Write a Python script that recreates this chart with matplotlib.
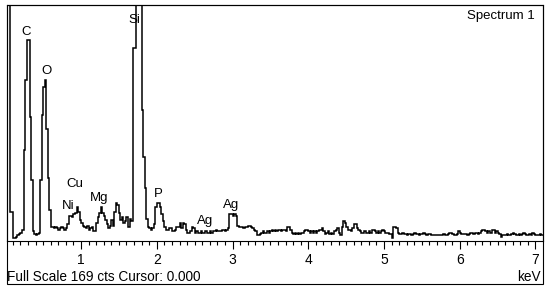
import numpy as np
import matplotlib as mpl
import matplotlib.pyplot as plt
from matplotlib.patches import Rectangle

mpl.rcParams.update({
    "font.family": ["Liberation Sans", "DejaVu Sans"],
    "font.size": 9.5,
})

# EDS spectrum, counts per 0.02 keV channel starting at 0 keV
CHANNEL_KEV = 0.02
counts = [
    200, 200, 200, 21, 21, 2, 2, 3, 4, 5, 6, 8, 65, 115, 144, 144, 89, 44, 7, 5, 4, 5, 6, 44, 90,
    110, 115, 80, 45, 22, 10, 10, 9, 10, 9, 8, 9, 10, 9, 8, 9, 12, 18, 18, 17, 19, 20, 24, 21, 15,
    13, 11, 10, 9, 11, 8, 9, 10, 7, 7, 13, 17, 20, 24, 20, 18, 15, 12, 9, 11, 15, 11, 21, 27, 26,
    20, 15, 17, 13, 14, 17, 10, 16, 14, 138, 138, 250, 250, 250, 250, 94, 60, 38, 16, 10, 9, 8, 9, 12, 24,
    27, 27, 24, 19, 14, 10, 8, 8, 9, 9, 7, 7, 8, 10, 10, 13, 9, 13, 12, 8, 6, 6, 7, 10, 9,
    6, 7, 6, 6, 7, 6, 6, 7, 6, 6, 7, 6, 7, 7, 8, 7, 7, 7, 8, 8, 7, 8, 9, 19, 19,
    18, 19, 18, 11, 10, 10, 10, 9, 10, 10, 11, 11, 10, 9, 8, 7, 4, 4, 5, 6, 7, 6, 6, 7, 6,
    7, 8, 7, 8, 7, 8, 8, 7, 8, 8, 7, 10, 10, 8, 6, 5, 6, 5, 6, 5, 6, 6, 7, 8, 8,
    7, 6, 7, 6, 7, 6, 7, 8, 8, 9, 7, 5, 6, 7, 5, 6, 5, 7, 8, 9, 6, 4, 10, 14, 13,
    10, 8, 8, 7, 9, 12, 12, 9, 8, 7, 6, 6, 7, 6, 6, 7, 6, 8, 8, 7, 6, 7, 6, 7, 8,
    7, 6, 6, 5, 5, 2, 10, 10, 9, 6, 5, 5, 6, 5, 5, 4, 5, 5, 4, 5, 6, 5, 5, 4, 5,
    5, 6, 5, 4, 5, 5, 4, 4, 4, 4, 4, 4, 4, 4, 5, 4, 4, 5, 6, 6, 5, 4, 4, 5, 7,
    6, 5, 5, 5, 5, 4, 5, 6, 6, 5, 6, 6, 5, 6, 7, 8, 8, 7, 6, 7, 6, 8, 8, 6, 7,
    6, 5, 3, 4, 4, 4, 5, 4, 4, 5, 6, 5, 4, 4, 5, 4, 5, 6, 5, 4, 4, 5, 4, 6, 5,
    4, 4, 4, 5, 4, 4,
]
FULL_SCALE = 169

# element labels: (text, keV, counts)
elements = ["C", "O", "Si", "Cu", "Ni", "Mg", "P", "Ag", "Ag"]
elem_kev = [0.27, 0.54, 1.71, 0.92, 0.83, 1.24, 2.02, 2.64, 2.98]
elem_cts = [150, 122, 158, 41, 25, 31, 34, 14, 26]

W, H = 550, 292
fig = plt.figure(figsize=(W / 100, H / 100), dpi=100)

L, R, T, AX, B = 7, 543, 5, 241, 284
ax = fig.add_axes([L / W, (H - AX) / H, (R - L) / W, (AX - T) / H])

edges = np.arange(len(counts) + 1) * CHANNEL_KEV
ax.stairs(counts, edges, color="k", lw=1.1, baseline=None)

ax.set_xlim(0.022, 7.10)
ax.set_ylim(0, FULL_SCALE)
ax.set_yticks([])
ax.set_xticks(np.arange(1, 8))
ax.set_xticks(np.arange(0.1, 7.1, 0.1), minor=True)
ax.tick_params(axis="x", which="major", direction="out", length=5.5,
               width=0.8, pad=3, labelsize=10)
ax.tick_params(axis="x", which="minor", direction="out", length=3,
               width=0.8)
for s in ax.spines.values():
    s.set_linewidth(0.8)

for name, e, c in zip(elements, elem_kev, elem_cts):
    ax.text(e, c, name, ha="center", va="center", fontsize=9.5)

ax.text(0.985, 0.955, "Spectrum 1", transform=ax.transAxes,
        ha="right", va="center", fontsize=9.5)

fig.patches.append(Rectangle((L / W, (H - B) / H), (R - L) / W, (B - T) / H,
                             transform=fig.transFigure, fill=False,
                             edgecolor="k", lw=0.8))
fig.text(L / W, (H - 277) / H, "Full Scale 169 cts Cursor: 0.000",
         ha="left", va="center", fontsize=9.8)
fig.text((R - 2) / W, (H - 277) / H, "keV", ha="right", va="center",
         fontsize=9.8)

fig.savefig("out.png", dpi=100)
